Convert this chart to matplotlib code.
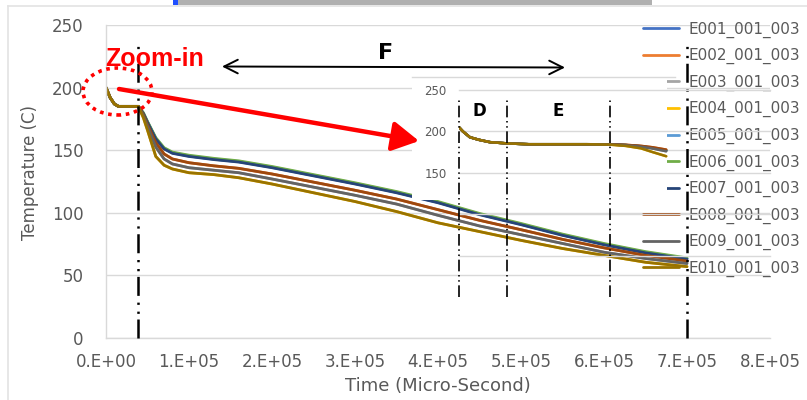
import matplotlib
matplotlib.use("Agg")
import matplotlib.pyplot as plt
from matplotlib.lines import Line2D
from matplotlib.patches import Rectangle, Ellipse, FancyArrowPatch

# ---------------- data ----------------
series_names = ["E001_001_003", "E002_001_003", "E003_001_003", "E004_001_003",
                "E005_001_003", "E006_001_003", "E007_001_003", "E008_001_003",
                "E009_001_003", "E010_001_003"]
series_colors = ["#4472C4", "#ED7D31", "#A5A5A5", "#FFC000", "#5B9BD5",
                 "#70AD47", "#264478", "#9E480E", "#636363", "#997300"]

time_us = [0, 5e3, 1e4, 1.5e4, 2e4, 3e4, 3.9e4, 4.5e4, 5e4, 6e4, 7e4, 8e4, 1e5,
           1.3e5, 1.6e5, 2e5, 2.5e5, 3e5, 3.5e5, 4e5, 4.5e5, 5e5, 5.5e5, 6e5, 6.5e5, 7e5]

temp_top_a = [200, 192, 187, 185, 185, 185, 185, 179.5, 172.5, 159.3, 151.3, 147.8, 145.3,
              142.8, 140.8, 136.3, 129.8, 123.3, 116.3, 108.3, 98.8, 90.8, 82.3, 74.8, 68.3, 63.3]
temp_top_b = [200, 192, 187, 185, 185, 185, 185, 179.6, 172.6, 159.5, 151.5, 148.0, 145.5,
              143.0, 141.0, 136.5, 130.0, 123.5, 116.5, 108.5, 99.0, 91.0, 82.5, 75.0, 68.5, 63.5]
temp_top_c = [200, 192, 187, 185, 185, 185, 185, 180, 173, 160, 152, 148.5, 146,
              143.5, 141.5, 137, 130.5, 124, 117, 109, 99.5, 91.5, 83, 75.5, 69, 64]
temp_top_d = [200, 192, 187, 185, 185, 185, 185, 179.3, 172.2, 159, 151, 147.5, 145,
              142.5, 140.5, 136, 129.5, 123, 116, 108, 98.5, 90.5, 82, 74.5, 68, 63]
temp_orange = [200, 192, 187, 185, 185, 185, 185, 178.5, 170.5, 156, 147, 143, 140,
               137.5, 135.5, 131, 124.5, 118, 111, 102.5, 94, 86.5, 78.8, 72, 66, 61.5]
temp_gray = [200, 192, 187, 185, 185, 185, 185, 177.5, 169, 152.5, 143, 139, 136,
             134, 132, 127, 120.5, 114, 107, 98, 89.5, 82.5, 75.5, 68.5, 63.5, 59.5]
temp_gold = [200, 192, 187, 185, 185, 185, 185, 176, 166, 145, 138, 135, 132,
             130.5, 128, 123, 116, 109, 101, 92, 85, 78, 71.5, 66, 60.5, 57]

series_temps = [temp_top_a, temp_orange, temp_gray, temp_gold, temp_top_b,
                temp_top_c, temp_top_d, temp_orange, temp_gray, temp_gold]

# zoomed-in (inset) data
inset_time = [0, 1e3, 2.8e3, 5e3, 8e3, 1.24e4, 1.8e4, 2.5e4, 3.3e4, 3.9e4,
              4.3e4, 4.7e4, 5.0e4, 5.35e4]
inset_top = [205, 200, 193, 190, 187, 185.5, 184.5, 184.5, 184.5, 184.3, 183.5, 182.0, 180.0, 177.0]
inset_orange = [205, 200, 193, 190, 187, 185.5, 184.5, 184.5, 184.5, 184.4, 183.8, 182.5, 180.8, 178.0]
inset_gray = [205, 200, 193, 190, 187, 185.5, 184.5, 184.5, 184.5, 184.2, 183.2, 181.5, 179.3, 176.0]
inset_gold = [205, 200, 193, 190, 187, 185.5, 184.5, 184.5, 184.5, 184.0, 182.5, 179.5, 175.0, 170.0]
inset_temps = [inset_top, inset_orange, inset_gray, inset_gold, inset_top,
               inset_top, inset_top, inset_orange, inset_gray, inset_gold]

x_ticks = [0, 1e5, 2e5, 3e5, 4e5, 5e5, 6e5, 7e5, 8e5]
x_tick_labels = ["0.E+00", "1.E+05", "2.E+05", "3.E+05", "4.E+05",
                 "5.E+05", "6.E+05", "7.E+05", "8.E+05"]
y_ticks = [0, 50, 100, 150, 200, 250]
inset_y_ticks = [150, 200, 250]
inset_grid = [50, 100, 150, 200, 250]
main_markers_t = [3.9e4, 7.0e5]
inset_markers_t = [0, 1.24e4, 3.9e4]

# ---------------- figure ----------------
W, H = 807, 400
fig = plt.figure(figsize=(W / 100, H / 100), dpi=100)
fig.patch.set_facecolor("white")


def fx(x):
    return x / W


def fy(y):
    return 1 - y / H


TXT = "#595959"
GRID = "#d9d9d9"

ax = fig.add_axes([fx(106), fy(338), fx(770) - fx(106), fy(25) - fy(338)])
ax.set_zorder(1)
for name, col, vals in zip(series_names, series_colors, series_temps):
    ax.plot(time_us, vals, color=col, lw=2.0, label=name, solid_capstyle="round")

ax.set_xlim(0, 8e5)
ax.set_ylim(0, 250)
ax.set_xticks(x_ticks)
ax.set_xticklabels(x_tick_labels)
ax.set_yticks(y_ticks)
ax.tick_params(axis="both", length=0, labelsize=12, labelcolor=TXT)
ax.tick_params(axis="y", pad=16)
ax.tick_params(axis="x", pad=11)
ax.grid(axis="y", color=GRID, lw=1.0)
ax.set_axisbelow(True)
for s in ["top", "right"]:
    ax.spines[s].set_visible(False)
for s in ["left", "bottom"]:
    ax.spines[s].set_color(GRID)
    ax.spines[s].set_linewidth(1.0)

ax.set_xlabel("Time (Micro-Second)", fontsize=13, color=TXT)
ax.set_ylabel("Temperature (C)", fontsize=12, color=TXT)
ax.xaxis.set_label_coords((438 - 106) / 664, (338 - 386) / 313)
ax.xaxis.label.set_va("center")
ax.yaxis.set_label_coords((30 - 106) / 664, (338 - 172) / 313)
ax.yaxis.label.set_va("center")

dashdotdot = (0, (7.6, 2.25, 0.9, 2.7, 0.9, 2.7))
for tm in main_markers_t:
    ax.plot([tm, tm], [0, 238], color="black", lw=1.8, linestyle=dashdotdot,
            zorder=6, clip_on=False)

leg = ax.legend(loc="upper left", bbox_to_anchor=(fx(643), fy(21.5)),
                bbox_transform=fig.transFigure, frameon=False, fontsize=11,
                handlelength=2.36, handletextpad=0.59, labelspacing=0.68,
                borderpad=0, borderaxespad=0)
for t in leg.get_texts():
    t.set_color(TXT)
leg.set_zorder(5)

# white box behind zoom-in chart
fig.add_artist(Rectangle((fx(412), fy(200)), fx(667) - fx(412), fy(77) - fy(200),
                         transform=fig.transFigure, facecolor="white",
                         edgecolor="none", zorder=2))
fig.add_artist(Line2D([fx(412), fx(675)], [fy(77), fy(77)], transform=fig.transFigure,
                      color=GRID, lw=1.0, zorder=2.5))

# ---------------- inset ----------------
iax = fig.add_axes([fx(459), fy(297), fx(672) - fx(459), fy(90) - fy(297)])
iax.set_zorder(3)
iax.patch.set_alpha(0)
iax.set_xlim(0, 5.5e4)
iax.set_ylim(0, 250)
for yv in inset_grid:
    iax.plot([0, 5.5e4 * (770 - 459) / (672 - 459)], [yv, yv], color=GRID, lw=1.0,
             clip_on=False, zorder=0.5)
for name, col, vals in zip(series_names, series_colors, inset_temps):
    iax.plot(inset_time, vals, color=col, lw=1.8, solid_capstyle="round", zorder=2)
inset_dash = (0, (7, 2.2, 0.9, 2.2, 0.9, 2.2))
for tm in inset_markers_t:
    iax.plot([tm, tm], [0, 241], color="black", lw=1.2, linestyle=inset_dash,
             clip_on=False, zorder=3)
iax.set_xticks([])
iax.set_yticks(inset_y_ticks)
iax.tick_params(axis="y", length=0, labelsize=8.5, labelcolor=TXT, pad=9)
for s in iax.spines.values():
    s.set_visible(False)

# ---------------- annotations ----------------
fig.text(fx(479), fy(111), "D", fontsize=12, fontweight="bold", ha="center",
         va="center", zorder=10)
fig.text(fx(558), fy(111), "E", fontsize=12, fontweight="bold", ha="center",
         va="center", zorder=10)
fig.text(fx(386), fy(53), "F", fontsize=16, fontweight="bold", ha="center",
         va="center", zorder=10)
fig.text(fx(155), fy(59), "Zoom-in", fontsize=18, fontweight="bold", color="red",
         family="Liberation Sans", ha="center", va="center", zorder=10)

fig.add_artist(Ellipse((fx(117.5), fy(91.5)), fx(69), 47 / H, transform=fig.transFigure,
                       fill=False, edgecolor="red", lw=2.6, linestyle=(0, (1, 1.3)),
                       zorder=10))
fig.add_artist(FancyArrowPatch((fx(119), fy(89)), (fx(419), fy(141)),
                               transform=fig.transFigure,
                               arrowstyle="-|>,head_length=0.9,head_width=0.5",
                               mutation_scale=18, color="red", lw=3.2,
                               shrinkA=0, shrinkB=0, zorder=10))
fig.add_artist(FancyArrowPatch((fx(222), fy(66.5)), (fx(565), fy(67.5)),
                               transform=fig.transFigure,
                               arrowstyle="<->,head_length=0.7,head_width=0.35",
                               mutation_scale=14, color="black", lw=1.4,
                               shrinkA=0, shrinkB=0, zorder=10))

# frame artifacts of the screenshot
fig.add_artist(Line2D([fx(8), fx(8)], [fy(6), 0], transform=fig.transFigure,
                      color="#e3e3e3", lw=1.2, zorder=0.5))
fig.add_artist(Line2D([fx(8), 1], [fy(6), fy(6)], transform=fig.transFigure,
                      color="#e3e3e3", lw=1.2, zorder=0.5))
fig.add_artist(Rectangle((fx(173), fy(5)), fx(652) - fx(173), 5 / H,
                         transform=fig.transFigure, facecolor="#b0b0b0",
                         edgecolor="none", zorder=0.5))
fig.add_artist(Rectangle((fx(173), fy(5)), fx(5), 5 / H,
                         transform=fig.transFigure, facecolor="#1f4fff",
                         edgecolor="none", zorder=0.6))

fig.savefig("out.png", dpi=100)
